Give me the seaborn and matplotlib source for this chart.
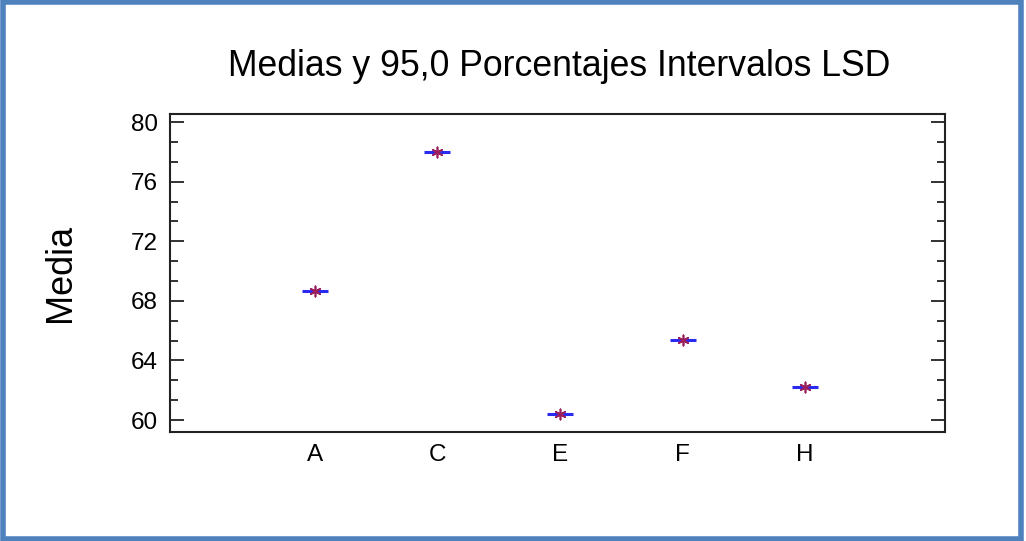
import matplotlib
matplotlib.use("Agg")
import pandas as pd
import seaborn as sns
import matplotlib.pyplot as plt
from matplotlib.patches import Rectangle
from matplotlib.ticker import MultipleLocator, NullLocator

groups = ["A", "C", "E", "F", "H"]
means = [68.66, 77.99, 60.40, 65.37, 62.21]
lsd_half = [0.05, 0.05, 0.05, 0.05, 0.05]

df = pd.DataFrame({"grupo": groups, "media": means, "lsd": lsd_half})

sns.set_style("ticks")
plt.rcParams["font.family"] = ["Liberation Sans", "DejaVu Sans"]
plt.rcParams["text.color"] = "black"
plt.rcParams["xtick.labelcolor"] = "black"
plt.rcParams["ytick.labelcolor"] = "black"

fig = plt.figure(figsize=(10.26, 5.41), dpi=100)
ax = fig.add_axes([0.1657, 0.2015, 0.7553, 0.5878])

# LSD intervals (blue horizontal caps)
sns.scatterplot(data=df, x="grupo", y="media", marker="_", s=330,
                color="#2a2af0", linewidth=2.2, ax=ax, zorder=2)
ax.errorbar(range(len(groups)), df["media"], yerr=df["lsd"], fmt="none",
            ecolor="#2a2af0", elinewidth=1.5, zorder=2)
# means (asterisk)
sns.scatterplot(data=df, x="grupo", y="media", marker=(6, 2, 0), s=55,
                color="#9b1f5c", linewidth=1.2, ax=ax, zorder=3)

ax.set_xlim(-1.18, 5.14)
ax.set_ylim(59.2, 80.54)
ax.yaxis.set_major_locator(MultipleLocator(4))
ax.yaxis.set_minor_locator(MultipleLocator(4 / 3))
ax.tick_params(axis="y", which="both", direction="in", left=True, right=True,
               labelsize=17.5, color="#222222", pad=9)
ax.tick_params(axis="y", which="major", length=10, width=1.3)
ax.tick_params(axis="y", which="minor", length=6, width=1.3)
ax.tick_params(axis="x", which="both", length=0, labelsize=17.5, pad=9)
ax.xaxis.set_minor_locator(NullLocator())
for s in ax.spines.values():
    s.set_visible(True)
    s.set_linewidth(1.5)
    s.set_color("#222222")

ax.set_xlabel("")
ax.set_ylabel("Media", fontsize=26, labelpad=38, color="black")
fig.text(0.5448, 0.877, "Medias y 95,0 Porcentajes Intervalos LSD",
         fontsize=25.7, ha="center", va="center", color="black")

# blue frame around the whole picture
fig.patches.append(Rectangle((0.003, 0.004), 0.992, 0.992, transform=fig.transFigure,
                             fill=False, edgecolor="#4f81bd", linewidth=4))

fig.savefig("out.png", dpi=100)
